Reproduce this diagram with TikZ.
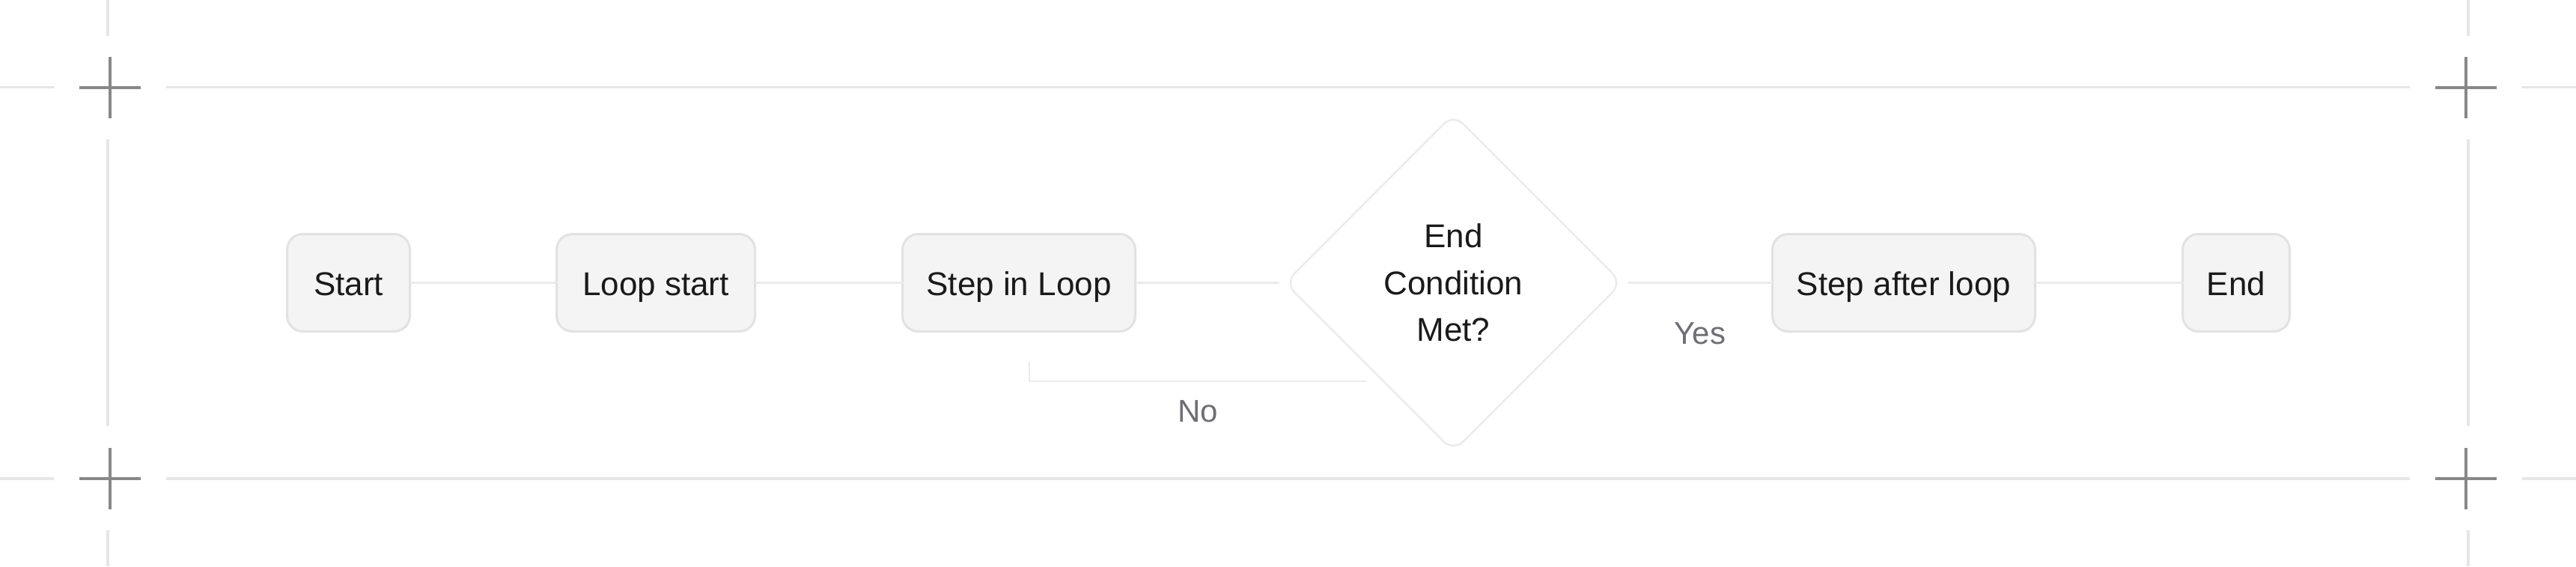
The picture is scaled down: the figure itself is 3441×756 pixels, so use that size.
\documentclass[tikz,border=0pt]{standalone}
\usepackage{fontspec}
\setmainfont{Liberation Sans}
\usetikzlibrary{shapes.geometric}
\definecolor{guide}{HTML}{E6E6E6}
\definecolor{crossc}{HTML}{888888}
\definecolor{connc}{HTML}{EBEBEB}
\definecolor{boxfill}{HTML}{F4F4F4}
\definecolor{boxline}{HTML}{E2E2E2}
\definecolor{txt}{HTML}{1A1A1A}
\definecolor{lblc}{HTML}{6E6E78}
\begin{document}
\begin{tikzpicture}[x=1pt,y=-1pt,
  guideline/.style={draw=guide,line width=3.4pt},
  crossline/.style={draw=crossc,line width=4pt},
  conn/.style={draw=connc,line width=2.4pt},
  procbox/.style={draw=boxline,fill=boxfill,line width=3pt,rounded corners=21pt,
    minimum height=130pt,inner sep=0pt,outer sep=0pt,text=txt,
    font=\fontsize{44}{53}\selectfont,text height=34.5pt,text depth=0pt},
  decision/.style={diamond,aspect=1,draw=connc,fill=white,line width=2.5pt,
    rounded corners=18pt,minimum width=450pt,minimum height=450pt,inner sep=0pt,
    outer sep=0pt,align=center,text=txt,font=\fontsize{44}{62.5}\selectfont},
  lbl/.style={text=lblc,font=\fontsize{42}{50}\selectfont,inner sep=0pt,
    text height=30pt,text depth=0pt}
]
\useasboundingbox (0,0) rectangle (3441,756);
\fill[white] (0,0) rectangle (3441,756);
% guide lines
\foreach \y in {116.7,639} {
  \draw[guideline] (0,\y) -- (72,\y) (221.6,\y) -- (3219,\y) (3369,\y) -- (3441,\y);
}
\foreach \x in {144,3297} {
  \draw[guideline] (\x,0) -- (\x,48) (\x,186) -- (\x,569) (\x,708) -- (\x,756);
}
% crosshairs
\foreach \cx/\cy in {146.6/116.7, 3294.4/116.7, 146.6/639, 3294.4/639} {
  \draw[crossline] ({\cx-41},\cy) -- ({\cx+41},\cy) (\cx,{\cy-41}) -- (\cx,{\cy+41});
}
% nodes
\node[procbox,minimum width=164pt] (start) at (465.5,377.5) {Start};
\node[procbox,minimum width=265pt] (loopstart) at (876,377.5) {Loop start};
\node[procbox,minimum width=311pt] (stepin) at (1361,377.5) {Step in Loop};
\node[decision] (cond) at (1941.5,377.5) {End\\Condition\\Met?};
\node[procbox,minimum width=351pt] (stepafter) at (2543,377.5) {Step after loop};
\node[procbox,minimum width=143pt] (finish) at (2987,377.5) {End};
% connectors
\draw[conn] (start.east) -- (loopstart.west);
\draw[conn] (loopstart.east) -- (stepin.west);
\draw[conn] (stepin.east) -- ([xshift=-8pt]cond.west);
\draw[conn] ([xshift=8pt]cond.east) -- (stepafter.west)
  node[lbl,midway,yshift=-66.5pt] (yes) {Yes};
\draw[conn] (stepafter.east) -- (finish.west);
\coordinate (noA) at (1825,508.7);
\coordinate (noB) at (1375,483);
\draw[conn] (noA) -| (noB) node[lbl,pos=0.25,yshift=-40pt] (no) {No};
\end{tikzpicture}
\end{document}
